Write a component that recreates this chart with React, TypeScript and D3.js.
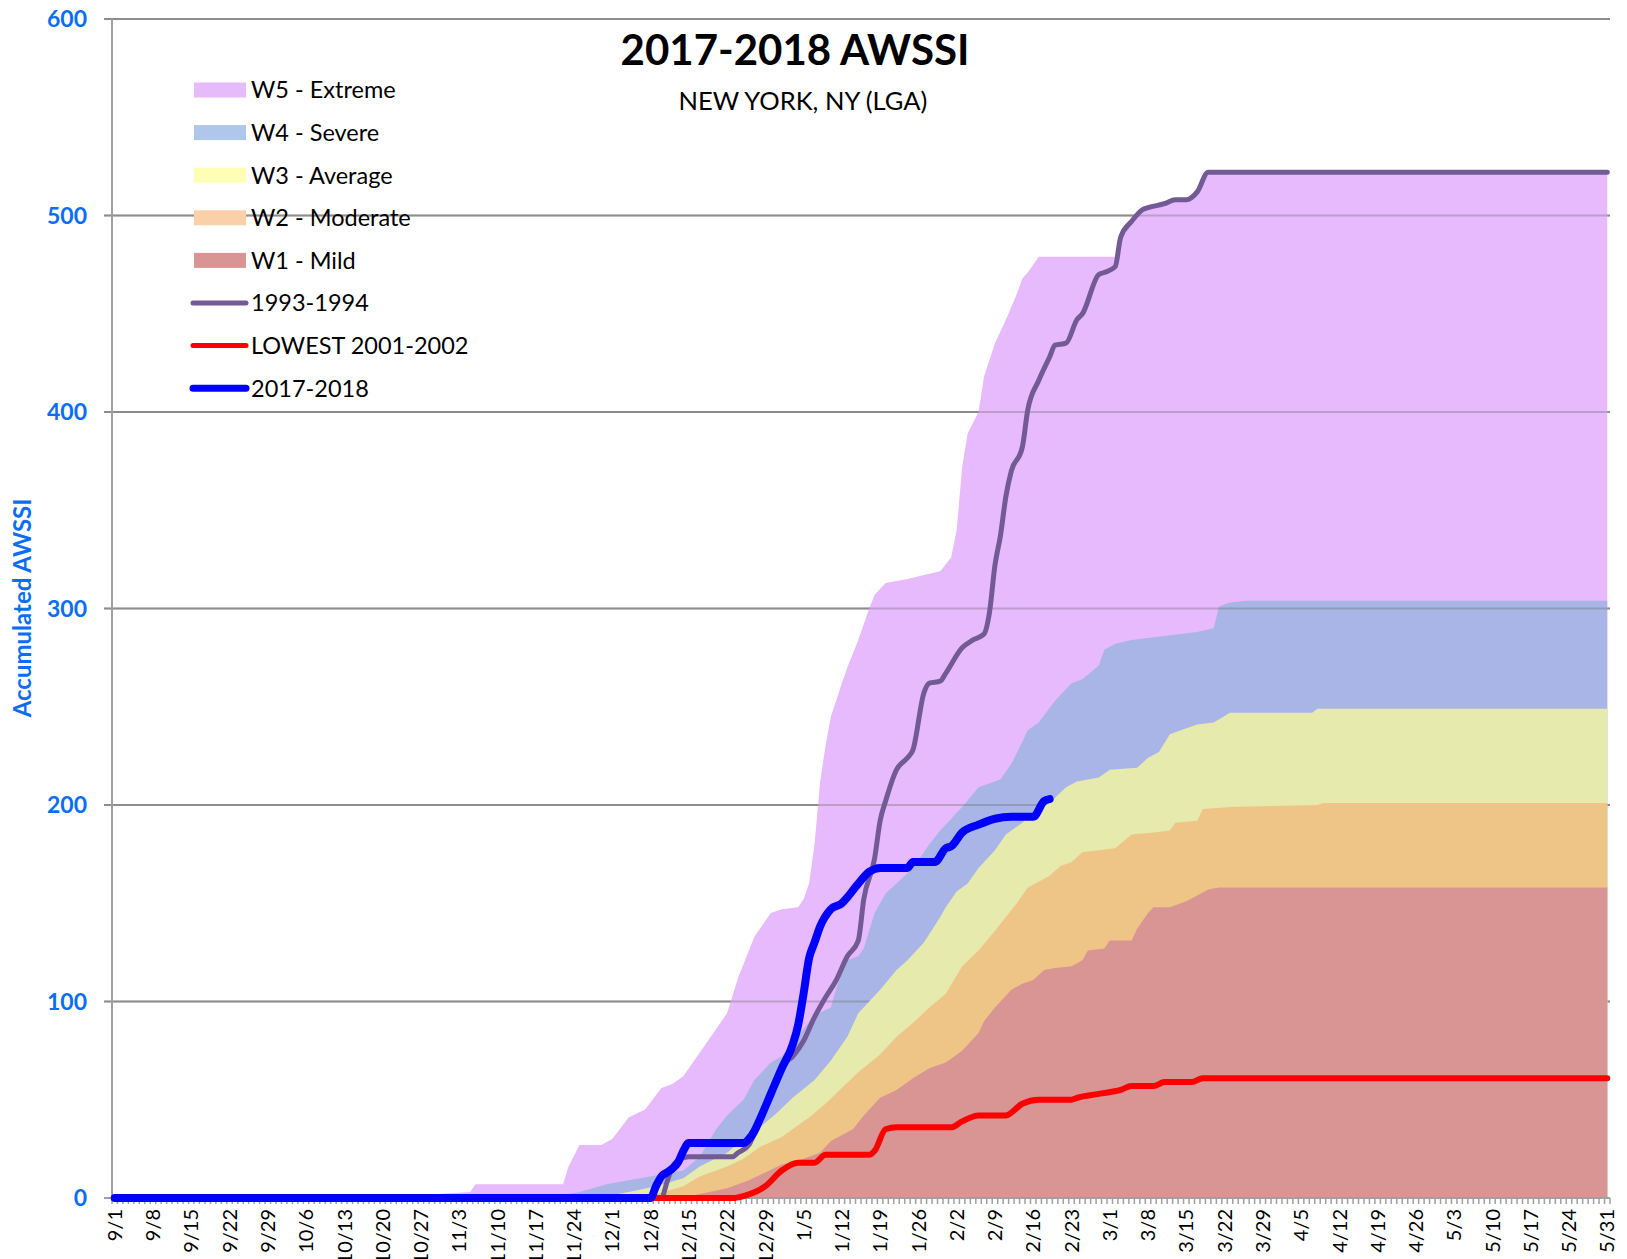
import React, { useEffect, useRef } from "react";
import * as d3 from "d3";

const W = 1627;
const H = 1259;

// 9/1 .. 5/31 on a leap-year template (2/29 included) => 274 daily categories
const dayCount = 274;
const tickLabels = [
  "9/1", "9/8", "9/15", "9/22", "9/29", "10/6", "10/13", "10/20", "10/27",
  "11/3", "11/10", "11/17", "11/24", "12/1", "12/8", "12/15", "12/22", "12/29",
  "1/5", "1/12", "1/19", "1/26", "2/2", "2/9", "2/16", "2/23", "3/1", "3/8",
  "3/15", "3/22", "3/29", "4/5", "4/12", "4/19", "4/26", "5/3", "5/10", "5/17",
  "5/24", "5/31",
];
const yTicks = [0, 100, 200, 300, 400, 500, 600];

// [day index from 9/1, accumulated AWSSI]
const w5Extreme = [
  [0, 0], [55, 0], [56, 1], [59, 2], [65, 3], [66, 7], [82, 7], [83, 16], [85, 27],
  [89, 27], [91, 30], [94, 41], [97, 45], [100, 56], [102, 58], [104, 62], [106, 70],
  [108, 78], [110, 86], [112, 94], [114, 112], [117, 133], [119, 141], [120, 145],
  [122, 147], [125, 148], [126, 152], [127, 160], [128, 180], [129, 211], [130, 230],
  [131, 245], [133, 262], [134, 270], [136, 284], [138, 300], [139, 307], [141, 313],
  [145, 315], [148, 317], [151, 319], [153, 326], [154, 340], [155, 372], [156, 389],
  [158, 400], [159, 418], [161, 435], [163, 447], [165, 460], [166, 468], [167, 471],
  [169, 479], [183, 479], [184, 489], [186, 497], [188, 503], [189, 504], [192, 506],
  [194, 508], [196, 508], [198, 512], [200, 522], [273, 522],
];
const w4Severe = [
  [0, 0], [79, 0], [85, 3], [90, 7], [94, 9], [98, 11], [104, 14], [107, 21], [110, 35],
  [112, 42], [115, 50], [117, 60], [120, 69], [122, 72], [126, 86], [128, 93], [131, 97],
  [132, 107], [134, 121], [136, 123], [137, 127], [139, 145], [141, 155], [143, 160],
  [146, 168], [149, 180], [151, 187], [153, 193], [155, 199], [158, 209], [162, 213],
  [164, 221], [166, 232], [167, 238], [169, 242], [172, 253], [175, 262], [177, 264],
  [180, 271], [181, 279], [183, 282], [186, 284], [189, 285], [192, 286], [195, 287],
  [198, 288], [201, 290], [202, 301], [204, 303], [207, 304], [273, 304],
];
const w3Average = [
  [0, 0], [88, 0], [94, 3], [99, 6], [104, 10], [107, 16], [112, 23], [115, 30],
  [118, 36], [121, 43], [124, 51], [128, 60], [131, 70], [134, 82], [136, 94],
  [138, 100], [140, 106], [143, 116], [145, 121], [148, 130], [151, 143], [152, 148],
  [154, 156], [156, 160], [158, 168], [161, 177], [163, 185], [166, 191], [168, 196],
  [171, 201], [174, 209], [176, 212], [180, 214], [182, 218], [187, 219], [189, 224],
  [191, 227], [193, 236], [195, 238], [198, 241], [201, 242], [204, 247], [219, 247],
  [220, 249], [273, 249],
];
const w2Moderate = [
  [0, 0], [94, 0], [99, 2], [104, 6], [107, 11], [112, 16], [115, 20], [118, 26],
  [122, 31], [125, 37], [127, 41], [130, 48], [133, 56], [136, 64], [140, 73],
  [143, 82], [146, 89], [149, 97], [152, 104], [155, 118], [158, 126], [161, 136],
  [163, 143], [165, 150], [167, 158], [169, 161], [171, 164], [173, 169], [175, 171],
  [177, 176], [183, 178], [186, 185], [190, 186], [193, 187], [194, 191], [198, 192],
  [199, 198], [204, 199], [220, 200], [221, 201], [273, 201],
];
const w1Mild = [
  [0, 0], [103, 0], [107, 2], [112, 5], [116, 9], [119, 13], [122, 17], [126, 20],
  [129, 23], [131, 29], [135, 35], [137, 42], [140, 51], [143, 55], [146, 61],
  [149, 66], [152, 69], [155, 75], [158, 84], [159, 90], [161, 97], [164, 106],
  [166, 109], [168, 111], [170, 116], [172, 117], [175, 118], [177, 121], [178, 126],
  [181, 127], [182, 131], [186, 131], [187, 137], [189, 145], [190, 148], [193, 148],
  [196, 151], [198, 154], [200, 157], [202, 158], [273, 158],
];

const season1993 = [
  [0, 0], [100, 0], [101, 8], [102, 16], [103, 19], [105, 21], [113, 21], [114, 23],
  [116, 27], [118, 40], [120, 53], [122, 67], [124, 72], [126, 80], [128, 92],
  [130, 102], [132, 111], [134, 123], [136, 131], [137, 152], [139, 173], [140, 192],
  [141, 202], [143, 218], [145, 224], [146, 228], [148, 257], [149, 262], [151, 263],
  [152, 267], [155, 280], [157, 284], [159, 287], [160, 298], [161, 322], [162, 337],
  [163, 357], [164, 370], [166, 382], [167, 401], [169, 416], [171, 428], [172, 434],
  [174, 435], [176, 447], [177, 450], [180, 470], [181, 471], [183, 474], [184, 489],
  [186, 497], [188, 503], [189, 504], [192, 506], [194, 508], [196, 508], [198, 512],
  [200, 522], [273, 522],
];
const lowest2001 = [
  [0, 0], [113, 0], [115, 1], [119, 6], [122, 14], [125, 18], [128, 18], [130, 22],
  [138, 22], [139, 24], [141, 35], [143, 36], [153, 36], [155, 39], [158, 42], [163, 42],
  [166, 48], [169, 50], [175, 50], [176, 51], [180, 53], [184, 55], [186, 57], [190, 57],
  [192, 59], [197, 59], [199, 61], [273, 61],
];
const season2017 = [
  [0, 0], [98, 0], [99, 6], [100, 11], [101, 13], [102, 15], [103, 18], [104, 24],
  [105, 28], [115, 28], [116, 30], [117, 34], [118, 40], [120, 53], [122, 66], [124, 78],
  [125, 88], [126, 104], [127, 122], [128, 130], [129, 138], [131, 147], [133, 150],
  [134, 153], [136, 160], [138, 166], [140, 168], [145, 168], [146, 171], [150, 171],
  [152, 178], [153, 179], [155, 186], [158, 190], [161, 193], [164, 194], [168, 194],
  [170, 202], [171, 203],
];

const areaSeries = [
  { name: "W5 - Extreme", data: w5Extreme, fill: "#E6BAFC", swatch: "#E6BBFC" },
  { name: "W4 - Severe", data: w4Severe, fill: "#A9B5E7", swatch: "#AEC7EB" },
  { name: "W3 - Average", data: w3Average, fill: "#E6EAAD", swatch: "#FFFFB3" },
  { name: "W2 - Moderate", data: w2Moderate, fill: "#EEC586", swatch: "#FAD0A8" },
  { name: "W1 - Mild", data: w1Mild, fill: "#D99594", swatch: "#D99594" },
];
const lineSeries = [
  { name: "1993-1994", data: season1993, stroke: "#725A96", width: 5 },
  { name: "LOWEST 2001-2002", data: lowest2001, stroke: "#FF0000", width: 6 },
  { name: "2017-2018", data: season2017, stroke: "#0000FF", width: 8 },
];

const FONT = "Lato, 'Open Sans', sans-serif";
const AXIS_BLUE = "#0A6EF5";
const GRID = "#A0A0A0";

function drawChart(element) {
  const svg = d3.select(element);
  svg.selectAll("*").remove();

  const left = 112;
  const right = 1610;
  const x = d3.scaleLinear().domain([-0.5, dayCount - 0.5]).range([left, right]);
  const y = d3.scaleLinear().domain([0, 600]).range([1198, 19]);

  svg.append("rect").attr("width", W).attr("height", H).attr("fill", "#fff");

  // gridlines under the areas
  const grid = (g, opacity, color) =>
    g
      .selectAll("line")
      .data(yTicks.filter((t) => t > 0))
      .join("line")
      .attr("x1", left - 8)
      .attr("x2", right)
      .attr("y1", (d) => y(d))
      .attr("y2", (d) => y(d))
      .attr("stroke", color)
      .attr("stroke-opacity", opacity)
      .attr("stroke-width", 2);

  grid(svg.append("g"), 1, GRID);

  const area = d3
    .area()
    .x((d) => x(d[0]))
    .y0(y(0))
    .y1((d) => y(d[1]));

  const areaG = svg.append("g");
  areaSeries.forEach((s, i) => {
    areaG.append("path").datum(s.data).attr("fill", s.fill).attr("d", area);
    // gridlines show through the two top bands
    if (i === 1) grid(areaG.append("g"), 0.35, "#6A6A6A");
  });

  // y axis
  svg
    .append("line")
    .attr("x1", left)
    .attr("x2", left)
    .attr("y1", y(600))
    .attr("y2", y(0))
    .attr("stroke", GRID)
    .attr("stroke-width", 2);

  svg
    .append("g")
    .selectAll("text")
    .data(yTicks)
    .join("text")
    .attr("x", 87)
    .attr("y", (d) => y(d))
    .attr("dy", "0.36em")
    .attr("text-anchor", "end")
    .attr("font-family", FONT)
    .attr("font-weight", "bold")
    .attr("font-size", 23)
    .attr("fill", AXIS_BLUE)
    .text((d) => d);

  svg
    .append("text")
    .attr("transform", `translate(31,608) rotate(-90)`)
    .attr("text-anchor", "middle")
    .attr("font-family", FONT)
    .attr("font-weight", "bold")
    .attr("font-size", 24)
    .attr("fill", AXIS_BLUE)
    .text("Accumulated AWSSI");

  // x axis line, one tick per day, label every 7th day
  svg
    .append("line")
    .attr("x1", left - 8)
    .attr("x2", right)
    .attr("y1", y(0))
    .attr("y2", y(0))
    .attr("stroke", GRID)
    .attr("stroke-width", 2);

  svg
    .append("g")
    .selectAll("line")
    .data(d3.range(dayCount + 1))
    .join("line")
    .attr("x1", (k) => x(k - 0.5))
    .attr("x2", (k) => x(k - 0.5))
    .attr("y1", y(0))
    .attr("y2", y(0) + 6)
    .attr("stroke", GRID)
    .attr("stroke-width", 1.5);

  svg
    .append("g")
    .selectAll("text")
    .data(tickLabels)
    .join("text")
    .attr("transform", (d, i) => `translate(${x(i * 7)},1209) rotate(-90)`)
    .attr("dy", "0.36em")
    .attr("text-anchor", "end")
    .attr("font-family", FONT)
    .attr("font-size", 20)
    .attr("fill", "#000")
    .text((d) => d);

  // season lines
  const line = d3
    .line()
    .x((d) => x(d[0]))
    .y((d) => y(d[1]))
    .curve(d3.curveMonotoneX);

  lineSeries.forEach((s) => {
    svg
      .append("path")
      .datum(s.data)
      .attr("fill", "none")
      .attr("stroke", s.stroke)
      .attr("stroke-width", s.width)
      .attr("stroke-linejoin", "round")
      .attr("stroke-linecap", "round")
      .attr("d", line);
  });

  // titles
  svg
    .append("text")
    .attr("x", 795)
    .attr("y", 65)
    .attr("text-anchor", "middle")
    .attr("font-family", FONT)
    .attr("font-weight", "bold")
    .attr("font-size", 42)
    .attr("fill", "#000")
    .text("2017-2018 AWSSI");

  svg
    .append("text")
    .attr("x", 803)
    .attr("y", 110)
    .attr("text-anchor", "middle")
    .attr("font-family", FONT)
    .attr("font-size", 25.5)
    .attr("fill", "#000")
    .text("NEW YORK, NY (LGA)");

  // legend
  const legend = svg.append("g");
  const rowY = (i) => 90 + i * 42.6;
  areaSeries.forEach((s, i) => {
    legend
      .append("rect")
      .attr("x", 194)
      .attr("y", rowY(i) - 7.5)
      .attr("width", 52)
      .attr("height", 15)
      .attr("fill", s.swatch);
  });
  lineSeries.forEach((s, j) => {
    const cy = rowY(areaSeries.length + j);
    legend
      .append("line")
      .attr("x1", 193)
      .attr("x2", 246)
      .attr("y1", cy)
      .attr("y2", cy)
      .attr("stroke", s.stroke)
      .attr("stroke-width", j === 2 ? 7 : 5)
      .attr("stroke-linecap", "round");
  });
  [...areaSeries, ...lineSeries].forEach((s, i) => {
    legend
      .append("text")
      .attr("x", 251)
      .attr("y", rowY(i))
      .attr("dy", "0.36em")
      .attr("font-family", FONT)
      .attr("font-size", 23.5)
      .attr("fill", "#000")
      .text(s.name);
  });
}

export default function App() {
  const ref = useRef(null);
  useEffect(() => {
    drawChart(ref.current);
  }, []);
  return (
    <svg
      ref={ref}
      width={W}
      height={H}
      style={{ position: "absolute", left: 0, top: 0, display: "block" }}
    />
  );
}
